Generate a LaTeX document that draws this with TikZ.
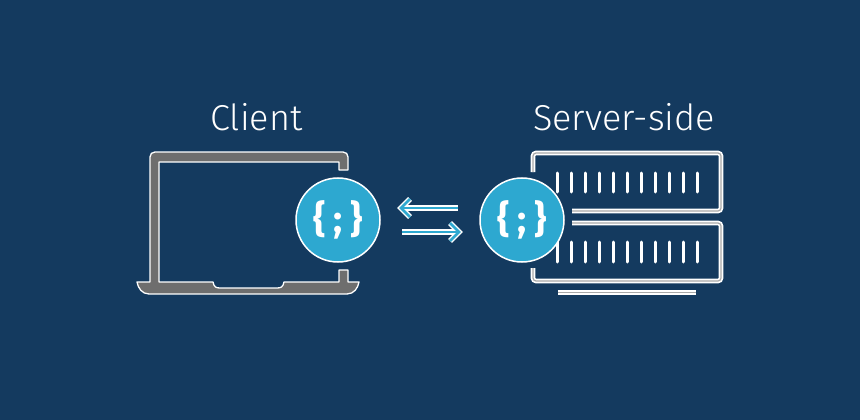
\documentclass[tikz,border=0pt]{standalone}
\usepackage{fontspec}
\setmainfont{Fira Sans Light}
\newfontfamily\codefont{Fira Sans Bold}
\usetikzlibrary{calc, positioning}
\definecolor{navybg}{HTML}{143A5F}
\definecolor{codeblue}{HTML}{2DA8D0}
\definecolor{lidgray}{HTML}{6E6E6E}
\definecolor{rackgray}{HTML}{A8A8A8}
\newcommand{\codemark}{\{\kern8pt;\kern8pt\}}

\begin{document}
\begin{tikzpicture}[x=1pt,y=-1pt,node distance=0pt]
    \tikzstyle{codebadge} = [circle, minimum size=84pt, inner sep=0pt, outer sep=0pt, draw=white, line width=1.5pt, fill=codeblue, text=white, font=\codefont\fontsize{38}{38}\selectfont]
    \tikzstyle{title} = [text=white, font=\fontsize{36}{40}\selectfont, inner sep=0pt]
    \tikzstyle{laptop} = [draw=white, line width=1.3pt, fill=lidgray, line join=round]
    \tikzstyle{rack} = [draw=white, line width=1.7pt, double=rackgray, double distance=1.2pt, rounded corners=3pt]
    \tikzstyle{tick} = [draw=white, line width=3pt, line cap=round]
    \tikzstyle{arrowout} = [white, line width=5.4pt]
    \tikzstyle{arrowin} = [codeblue, line width=2.6pt]

    \fill [navybg] (0,0) rectangle (860,420);
    \useasboundingbox (0,0) rectangle (860,420);

    % laptop
    \path [laptop] (348,170) -- (348,157) .. controls (348,154) and (346,152) .. (343,152) -- (155,152) .. controls (152,152) and (150,154) .. (150,157) -- (150,282) -- (137,282) .. controls (138,288) and (142,294) .. (149,294) -- (347,294) .. controls (354,294) and (358,288) .. (359,282) -- (348,282) -- (348,270) -- (339,270) -- (339,282) -- (284,282) .. controls (283,287) and (281,288) .. (277,288) -- (220,288) .. controls (216,288) and (214,287) .. (213,282) -- (159,282) -- (159,162) -- (339,162) -- (339,170) -- cycle;

    % server
    \draw [rack] (533,172) -- (533,153) -- (721,153) -- (721,211) -- (572,211);
    \draw [rack] (572,223) -- (721,223) -- (721,281) -- (533,281) -- (533,268);
    \draw [rack] (558,292.5) -- (696,292.5);
    \foreach \x in {557,571,...,697} {
        \draw [tick] (\x,173) -- (\x,192);
        \draw [tick] (\x,242) -- (\x,262);
    }

    \node (clientcode) [codebadge] at (338,220) {\codemark};
    \node (servercode) [codebadge, right=100pt of clientcode] {\codemark};
    \node (client) [title] at (256.5,117) {Client};
    \node (server) [title] at (624,117) {Server-side};

    \coordinate (backstart) at (458,208);
    \coordinate (backend) at (401,208);
    \coordinate (sendstart) at (402,232);
    \coordinate (sendend) at (459,232);

    \foreach \s in {arrowout, arrowin} {
        \draw [\s] (backstart) -- (backend);
        \draw [\s] ($(backend)+(9,-9)$) -- (backend) -- ($(backend)+(9,9)$);
        \draw [\s] (sendstart) -- (sendend);
        \draw [\s] ($(sendend)+(-9,-9)$) -- (sendend) -- ($(sendend)+(-9,9)$);
    }
\end{tikzpicture}
\end{document}
